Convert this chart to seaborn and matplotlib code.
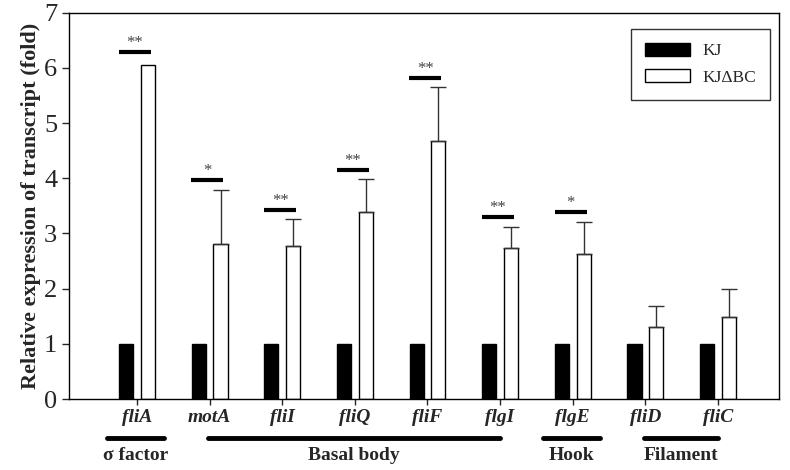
import numpy as np
import pandas as pd
import matplotlib
matplotlib.use("Agg")
import matplotlib.pyplot as plt
import matplotlib.transforms as mtransforms
from matplotlib.patches import Patch
import seaborn as sns

# -------------------------------
# Data
# -------------------------------
genes = ["fliA", "motA", "fliI", "fliQ", "fliF", "flgI", "flgE", "fliD", "fliC"]
kj = [1, 1, 1, 1, 1, 1, 1, 1, 1]
kj_dbc = [6.05, 2.80, 2.77, 3.38, 4.67, 2.74, 2.63, 1.30, 1.49]
kj_dbc_err = [0.0, 0.99, 0.49, 0.60, 0.98, 0.38, 0.58, 0.38, 0.50]

sig_genes = ["fliA", "motA", "fliI", "fliQ", "fliF", "flgI", "flgE"]
sig_marks = ["**", "*", "**", "**", "**", "**", "*"]
sig_levels = [6.28, 3.97, 3.43, 4.15, 5.82, 3.30, 3.39]

group_names = ["σ factor", "Basal body", "Hook", "Filament"]
group_start = ["fliA", "motA", "flgE", "fliD"]
group_end = ["fliA", "flgI", "flgE", "fliC"]

strains = ["KJ", "KJΔBC"]

df = pd.DataFrame({
    "gene": genes * 2,
    "strain": [strains[0]] * len(genes) + [strains[1]] * len(genes),
    "value": kj + kj_dbc,
})

# -------------------------------
# Plot
# -------------------------------
sns.set_style("ticks")
plt.rcParams["font.family"] = ["Liberation Serif", "DejaVu Serif"]

fig = plt.figure(figsize=(7.9, 4.7), dpi=100)
ax = fig.add_axes([0.0873, 0.151, 0.8987, 0.822])

sns.barplot(data=df, x="gene", y="value", hue="strain", order=genes,
            hue_order=strains, palette={"KJ": "black", "KJΔBC": "white"},
            edgecolor="black", linewidth=1.0, width=0.6, gap=0.35,
            errorbar=None, legend=False, ax=ax)

# one-sided error bars on the mutant bars
for bar, err in zip(ax.containers[1], kj_dbc_err):
    if err <= 0:
        continue
    xc = bar.get_x() + bar.get_width() / 2
    ax.errorbar(xc, bar.get_height(), yerr=[[0], [err]], fmt="none",
                ecolor="#333333", elinewidth=1.0, capsize=6, capthick=1.0)

# significance lines + asterisks
for g, mark, lvl in zip(sig_genes, sig_marks, sig_levels):
    i = genes.index(g)
    ax.plot([i - 0.25, i + 0.19], [lvl, lvl], color="black", lw=3,
            solid_capstyle="butt")
    ax.text(i - 0.03, lvl + 0.02, mark, ha="center", va="bottom",
            fontsize=12, color="#444444")

ax.set_ylim(0, 7)
ax.set_xlim(-0.937, 8.84)
ax.set_yticks(range(0, 8))
ax.tick_params(axis="y", labelsize=19, direction="out", length=5, width=1)
ax.tick_params(axis="x", labelsize=14, direction="out", length=4, width=1, pad=3)
for lbl in ax.get_xticklabels():
    lbl.set_fontstyle("italic")
    lbl.set_fontweight("bold")
ax.set_xlabel("")
ax.set_ylabel("Relative expression of transcript (fold)", fontsize=16,
              fontweight="bold", labelpad=2)

for s in ax.spines.values():
    s.set_visible(True)
    s.set_linewidth(1.0)
    s.set_color("black")

# gene groups below the axis
trans = mtransforms.blended_transform_factory(ax.transData, ax.transAxes)
for name, a, b in zip(group_names, group_start, group_end):
    i0, i1 = genes.index(a), genes.index(b)
    if i0 == i1:
        x0, x1 = i0 - 0.41, i1 + 0.37
    else:
        x0, x1 = i0 - 0.02, i1
    ax.plot([x0, x1], [-0.10, -0.10], color="black", lw=3.5,
            transform=trans, clip_on=False, solid_capstyle="round")
    ax.text((x0 + x1) / 2, -0.145, name, transform=trans, ha="center",
            va="center", fontsize=14, fontweight="bold")

handles = [Patch(facecolor="black", edgecolor="black", label="KJ"),
           Patch(facecolor="white", edgecolor="black", label="KJΔBC")]
leg = ax.legend(handles=handles, loc="upper right", bbox_to_anchor=(0.987, 0.958),
                borderaxespad=0, frameon=True, fancybox=False,
                edgecolor="black", fontsize=12.5, handlelength=2.6,
                handleheight=0.8, borderpad=0.8, labelspacing=0.55,
                handletextpad=0.7)
leg.get_frame().set_linewidth(1.0)

fig.savefig("out.png", dpi=100)
